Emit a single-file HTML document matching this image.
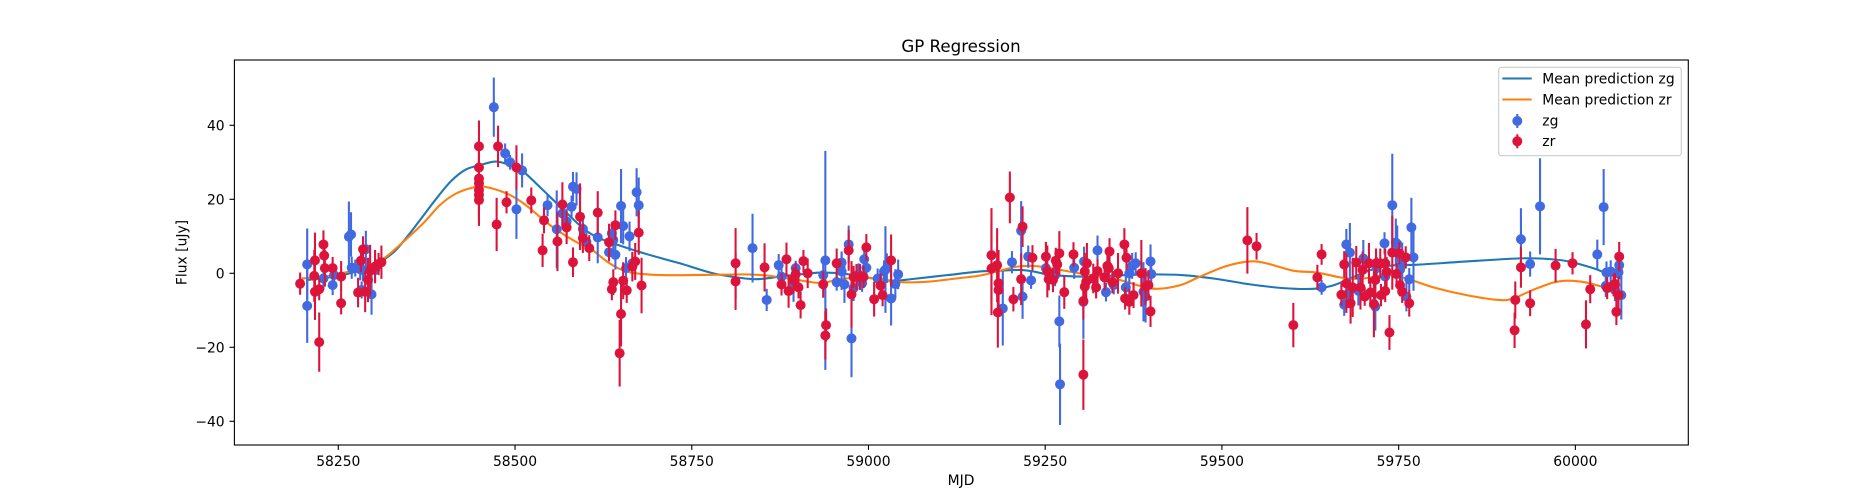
<!DOCTYPE html>
<html lang="en">
<head>
<meta charset="utf-8">
<title>GP Regression</title>
<style>
html,body{margin:0;padding:0;background:#fff;}
svg{display:block;font-family:"DejaVu Sans","Liberation Sans",sans-serif;}
</style>
</head>
<body>
<svg id="chart" xmlns="http://www.w3.org/2000/svg" width="1875" height="500" viewBox="0 0 1875 500">
  <rect x="0" y="0" width="1875" height="500" fill="#fff"/>
  <rect x="234.4" y="60" width="1453.9" height="385" fill="#fff"/>
  <g id="curves"></g>
  <g id="pointsZg"></g>
  <g id="pointsZr"></g>
  <rect x="234.4" y="60" width="1453.9" height="385" fill="none" stroke="#000" stroke-width="1.11"/>
  <g id="xAxis"></g>
  <g id="yAxis"></g>
  <text x="961" y="52" text-anchor="middle" font-size="16.67" fill="#000">GP Regression</text>
  <text x="961" y="485" text-anchor="middle" font-size="13.89" fill="#000">MJD</text>
  <text x="0" y="0" transform="translate(186.5 252.5) rotate(-90)" text-anchor="middle" font-size="13.89" fill="#000">Flux [uJy]</text>
  <g>
    <rect x="1498.7" y="67.3" width="182.6" height="88.4" rx="2.8" ry="2.8" fill="#fff" fill-opacity="0.8" stroke="#ccc" stroke-width="1.11"/>
    <line x1="1502.3" y1="78.5" x2="1531.7" y2="78.5" stroke="#1f77b4" stroke-width="2.08"/>
    <text x="1542.3" y="83.4" font-size="13.89" fill="#000">Mean prediction zg</text>
    <line x1="1502.3" y1="99.5" x2="1531.7" y2="99.5" stroke="#ff7f0e" stroke-width="2.08"/>
    <text x="1542.3" y="104.4" font-size="13.89" fill="#000">Mean prediction zr</text>
    <line x1="1517.3" y1="114" x2="1517.3" y2="128" stroke="#4169e1" stroke-width="2.08"/>
    <circle cx="1517.3" cy="121" r="5" fill="#4169e1"/>
    <text x="1542.3" y="125.4" font-size="13.89" fill="#000">zg</text>
    <line x1="1517.3" y1="134.3" x2="1517.3" y2="148.3" stroke="#dc143c" stroke-width="2.08"/>
    <circle cx="1517.3" cy="141.3" r="5" fill="#dc143c"/>
    <text x="1542.3" y="146" font-size="13.89" fill="#000">zr</text>
  </g>
</svg>
<script>
var xTickValues = [58250,58500,58750,59000,59250,59500,59750,60000];
var yTickValues = [-40,-20,0,20,40];

var zgMeanMjd = [58206,58230,58250,58270,58290,58310,58330,58350,58370,58390,58410,58430,58450,58474,58500,58512,58559,58596,58617,58639,58686,58733,58780,58814,58842,58875,58913,58936,58969,59007,59035,59064,59111,59158,59186,59214,59233,59257,59304,59351,59398,59445,59492,59540,59587,59629,59657,59681,59705,59728,59752,59775,59846,59917,59950,59988,60025,60044,60065];
var zgMean = [-1.8,-1.3,-0.7,0.2,1.4,3.2,6,10.5,15.5,20.5,25,28,29.2,30.2,28.7,27.5,18.9,12.2,9.7,8.1,5.2,2.7,0,-1.1,-1.6,-0.9,-0.1,0.2,-0.2,-1.4,-2,-1.5,-0.5,0.5,0.7,0.9,0.5,-0.4,-0.9,-0.6,-0.3,-0.5,-1.5,-3,-4,-4.2,-3.3,-1.4,0.5,1.8,2.3,2.3,3.2,4,4,3.3,1.4,0,-1.4];

var zrMeanMjd = [58198,58230,58262,58290,58314,58332,58370,58394,58417,58441,58457,58488,58512,58535,58559,58592,58606,58630,58649,58667,58696,58733,58780,58828,58856,58894,58931,58960,58993,59016,59045,59082,59120,59158,59186,59210,59233,59257,59304,59351,59384,59408,59441,59469,59507,59540,59563,59601,59634,59667,59686,59709,59733,59761,59799,59846,59891,59912,59940,59969,59990,60016,60044,60065];
var zrMean = [-1.4,-0.9,0.3,1.8,4,6.8,13.5,18.5,21.6,23.2,23.4,21.6,18.9,15.3,11.7,7.9,6.8,3.2,1.1,0.1,-0.4,-0.5,-0.4,-0.3,-0.6,-1.6,-2.6,-1.6,-1.1,-1.8,-2.4,-2.3,-1.5,-0.6,0.7,1.8,2,1.4,-0.2,-1.6,-3.4,-4.2,-3.2,-0.9,2,3.2,2.7,0.7,0.2,-1.1,-1.5,-1.2,-0.5,-1.4,-3.8,-5.9,-7.2,-6.8,-4.5,-2.5,-2,-2.5,-3.8,-3.2];

var zgMjd = [58206,58206,58229,58242,58244,58265,58268,58269,58274,58281,58283,58285,58289,58297,58302,
  58470,58486,58493,58502,58510,58546,58559,58567,58573,58580,58582,58587,58596,58601,58617,
  58633,58637,58639,58642,58650,58653,58657,58662,58666,58672,58675,
  58836,58856,58873,58877,58894,58897,58936,58939,58955,58962,58962,58966,58972,58976,58979,58986,58991,58994,58997,
  59013,59022,59024,59026,59032,59038,59042,
  59190,59203,59216,59218,59226,59230,59251,59255,59264,59270,59271,59291,59304,59305,59324,59336,59339,59347,59364,59369,59373,59378,59389,59392,59399,59400,
  59641,59673,59676,59679,59681,59693,59700,59717,59719,59730,59731,59741,59746,59748,59752,59755,59761,59765,59768,59771,
  59923,59936,59950,60031,60040,60043,60044,60050,60056,60061,60062,60065];
var zgFlux = [2.4,-8.8,-1.4,-3.2,-0.5,9.9,10.5,1.5,1.4,1.1,-4.5,0.9,6.5,-5.7,0.9,
  44.9,32.4,30,17.3,27.8,18.4,11.9,16.2,14,18,23.4,22.8,12,8.5,9.7,
  5.7,10.8,9,5,18.2,12.8,1.4,10,2.7,21.9,18.4,
  6.8,-7.2,2.2,-0.9,-2.7,1.4,-0.5,3.5,-2.4,2.9,0.5,-3,7.8,-17.6,-4,-0.3,-2.7,3.8,1.5,
  -1.4,0.5,1,1.4,-6.8,-2.9,-0.3,
  -9.5,3,11.5,-6.3,4.5,-1.9,1.4,-1.6,-0.5,-13,-30,1.5,-7.7,3.2,6.2,-5.1,1.4,-3.2,-3.8,0,2,2.7,-5,-6.3,3.2,-0.2,
  -3.8,-8.5,7.8,-5.4,5.6,-4.7,4,-9,1.4,8.1,-0.9,18.4,8.3,7.9,1,2.3,-6.3,-1.6,12.4,4.3,
  9.2,2.5,18.1,5.1,17.9,-3.4,0.2,0.5,-4.5,0.3,2.2,-5.9];
var zgErr = [9.7,10,3,2.7,2.5,9.5,6,3,2.3,3,2.3,3,5,5.5,3,
  8,2.7,2,8,4.6,3,10.5,4,3.5,3,4,4.5,3,2.5,7,
  2.5,3,3,4,10,5,3,4,3,6.5,7.5,
  9.3,3,3,4,5,2,4,29.6,2.3,3,5,5,5.1,10.5,3.5,3,2.3,3,3,
  2.7,3,11.7,4,7.3,4,4,
  10,3,8,6,3,2.3,2.5,3,3,7,11,3,10,4,4,2.5,3,2.5,3,3,3.5,3,8,7,4.6,4,
  2,3,4.2,4,8,4,5,6.5,3,3,3,13.9,6.5,5,4,6,4,3,8,9,
  8.4,3.4,13,4,10.3,3,3,3,3,4,3,6.6];

var zrMjd = [58196,58216,58217,58217,58223,58223,58229,58230,58231,58242,58254,58254,58278,58282,58285,58288,58292,58295,58302,58307,58311,
  58449,58449,58449,58449,58449,58449,58449,58474,58476,58488,58502,58523,58539,58541,58560,58567,58573,58582,58592,58596,58605,
  58617,58633,58637,58639,58642,58648,58650,58653,58658,58666,58670,58675,58679,
  58812,58812,58853,58877,58884,58887,58894,58897,58901,58904,58908,58914,58936,58939,58940,58955,58972,58976,58979,58983,58988,58993,58997,59008,59017,59020,59032,
  59174,59174,59182,59183,59184,59184,59200,59205,59216,59218,59232,59251,59253,59255,59261,59265,59267,59270,59277,59290,59304,59304,59306,59306,59308,59309,59318,59322,59324,59334,59338,59340,59341,59345,59353,59362,59363,59365,59369,59375,59386,59392,59396,59399,
  59536,59549,59601,59635,59641,
  59669,59673,59676,59682,59685,59690,59696,59699,59702,59708,59710,59715,59717,59718,59724,59725,59731,59731,59733,59737,59741,59747,59751,59752,59755,59760,59765,
  59914,59915,59923,59936,59972,59996,60015,60021,60045,60054,60056,60058,60061,60062];
var zrFlux = [-2.8,-0.7,3.5,-5,-4.3,-18.6,7.8,4.8,1.4,1.4,-0.9,-8.1,-5.2,3.4,6.5,-5,-1.8,0.7,1.8,2.5,3,
  34.3,28.6,25.6,24.3,22.5,21.2,19.8,13.2,34.3,19.2,28.6,19.7,6.2,14.3,8.6,18.6,12.4,3,15.3,9.5,6.8,
  16.4,8.4,-4.3,-2.4,13,-21.6,-11,-2,-4.6,1.8,3.2,11,-3.3,
  2.7,-2.2,1.6,-3,3.8,-4.8,-1.8,-0.2,-3.8,-8.6,3.3,0,-3,-16.8,-14,2.7,6.2,-5.7,-1,-1,-1,-1,7,-7,-3.3,-5.9,3.5,
  4.9,1.3,2.2,-10.6,-2.7,-4.5,20.5,-7,-1.6,12.6,4.2,4.5,0.5,-1.6,-1.8,3.4,2.4,5.4,-5.1,5.1,-7.5,-27.4,0.5,-3.6,-2.3,2.7,-1.4,-3.8,0.6,-1.1,2,1.4,5.9,-2.4,0,7.8,-6.8,4.2,-7.7,-5.9,0,-3.6,-3.2,-10.3,
  8.9,7.3,-14,-1.1,5.1,
  -5.8,2.4,-2.7,-8.1,-3.8,2.9,-3.8,0.9,-6.3,2.7,-5.2,-8.3,-1.8,2.7,2.7,-5.9,2.7,-4.8,0.4,-16,5.6,-0.2,5.4,-3.2,-5,4.3,-8.1,
  -15.4,-7.2,1.6,-8.1,2.1,2.7,-13.8,-4.3,-4,-3.2,-2.9,-10.4,-5.9,4.5];
var zrErr = [3,7,7.5,7.6,3,8,3.8,4,5,3,4.2,3,4,3,3.5,5.5,6,7,4.5,3,4.5,
  7,7,7,7,7,7,7,7.2,5.6,3,6,3.5,4.5,3.5,8,6,4.5,4,9,4,3.5,
  5.8,5,3,3.5,4,9,8.8,5,3.4,4,5,6,7.5,
  9.5,7.7,6.5,3,4.5,4.5,3.5,3,3,3.6,3,4,3.6,6.5,4.5,4,5.5,9,3,3.5,3.5,3,3.6,4.7,3.3,3,7,
  12.7,12.6,10,9.5,9,6,7,3.3,7,5.5,3.4,4,7,3,3.3,3.5,4,6,4.5,3.3,5,9.5,5,4,5,5.5,4,3,3.3,3.5,4.5,4,3.6,3,5.5,4.4,3,3.3,3.5,3.5,9,5,4,4.2,
  9,3.6,6,3.4,2.8,
  3,3.6,8,5.5,8,4.5,6,5,2.5,5.5,4,9,5,4,4,3,4,3,4,4.7,10,3,3,3,3,3,3.6,
  4.8,5,5.5,3.5,4.5,3,6.5,3.8,3,3,3,3.6,5,4];

var SVGNS = 'http://www.w3.org/2000/svg';
var X_PER_DAY = 0.7069, X_ORIGIN_MJD = 58250, X_ORIGIN_PX = 338.3;
var Y_PER_UNIT = 3.7, Y_ZERO_PX = 273.3;
var MARKER_RADIUS = 5;

function xScale(m) { return X_ORIGIN_PX + (m - X_ORIGIN_MJD) * X_PER_DAY; }
function yScale(v) { return Y_ZERO_PX - v * Y_PER_UNIT; }
function make(tag, parent) {
  var el = document.createElementNS(SVGNS, tag);
  parent.appendChild(el);
  return el;
}
function smoothPath(mjd, vals) {
  var pts = mjd.map(function (m, i) { return [xScale(m), yScale(vals[i])]; });
  var d = 'M' + pts[0][0].toFixed(2) + ' ' + pts[0][1].toFixed(2);
  for (var i = 0; i < pts.length - 1; i++) {
    var p0 = pts[Math.max(i - 1, 0)], p1 = pts[i], p2 = pts[i + 1], p3 = pts[Math.min(i + 2, pts.length - 1)];
    var c1x = p1[0] + (p2[0] - p0[0]) / 6, c1y = p1[1] + (p2[1] - p0[1]) / 6;
    var c2x = p2[0] - (p3[0] - p1[0]) / 6, c2y = p2[1] - (p3[1] - p1[1]) / 6;
    d += 'C' + c1x.toFixed(2) + ' ' + c1y.toFixed(2) + ' ' + c2x.toFixed(2) + ' ' + c2y.toFixed(2) + ' ' + p2[0].toFixed(2) + ' ' + p2[1].toFixed(2);
  }
  return d;
}

var curves = document.getElementById('curves');
var pathZg = make('path', curves);


pathZg.setAttribute('d', smoothPath(zgMeanMjd, zgMean));
pathZg.setAttribute('fill', 'none');
pathZg.setAttribute('stroke', '#1f77b4');
pathZg.setAttribute('stroke-width', '2.08');
var pathZr = make('path', curves);


pathZr.setAttribute('d', smoothPath(zrMeanMjd, zrMean));
pathZr.setAttribute('fill', 'none');
pathZr.setAttribute('stroke', '#ff7f0e');
pathZr.setAttribute('stroke-width', '2.08');

function drawPoints(groupId, mjd, flux, err, color, band) {
  var g = document.getElementById(groupId);
  mjd.forEach(function (m, i) {
    var bar = make('line', g);
    
    
    bar.setAttribute('x1', xScale(m));
    bar.setAttribute('x2', xScale(m));
    bar.setAttribute('y1', yScale(flux[i] + err[i]));
    bar.setAttribute('y2', yScale(flux[i] - err[i]));
    bar.setAttribute('stroke', color);
    bar.setAttribute('stroke-width', '2.08');
  });
  mjd.forEach(function (m, i) {
    var dot = make('circle', g);
    
    
    dot.setAttribute('cx', xScale(m));
    dot.setAttribute('cy', yScale(flux[i]));
    dot.setAttribute('r', MARKER_RADIUS);
    dot.setAttribute('fill', color);
  });
}
drawPoints('pointsZg', zgMjd, zgFlux, zgErr, '#4169e1', 'zg');
drawPoints('pointsZr', zrMjd, zrFlux, zrErr, '#dc143c', 'zr');

var xAxis = document.getElementById('xAxis');
xTickValues.forEach(function (t) {
  var px = xScale(t);
  var tick = make('line', xAxis);
  
  
  tick.setAttribute('x1', px);
  tick.setAttribute('x2', px);
  tick.setAttribute('y1', 445);
  tick.setAttribute('y2', 449.9);
  tick.setAttribute('stroke', '#000');
  tick.setAttribute('stroke-width', '1.11');
  var label = make('text', xAxis);
  
  
  label.setAttribute('x', px);
  label.setAttribute('y', 466);
  label.setAttribute('text-anchor', 'middle');
  label.setAttribute('font-size', '13.89');
  label.setAttribute('fill', '#000');
  label.textContent = String(t);
});

var yAxis = document.getElementById('yAxis');
yTickValues.forEach(function (t) {
  var py = yScale(t);
  var tick = make('line', yAxis);
  
  
  tick.setAttribute('x1', 229.5);
  tick.setAttribute('x2', 234.4);
  tick.setAttribute('y1', py);
  tick.setAttribute('y2', py);
  tick.setAttribute('stroke', '#000');
  tick.setAttribute('stroke-width', '1.11');
  var label = make('text', yAxis);
  
  
  label.setAttribute('x', 224.6);
  label.setAttribute('y', py + 5);
  label.setAttribute('text-anchor', 'end');
  label.setAttribute('font-size', '13.89');
  label.setAttribute('fill', '#000');
  label.textContent = String(t).replace('-', '\u2212');
});
</script>
</body>
</html>
